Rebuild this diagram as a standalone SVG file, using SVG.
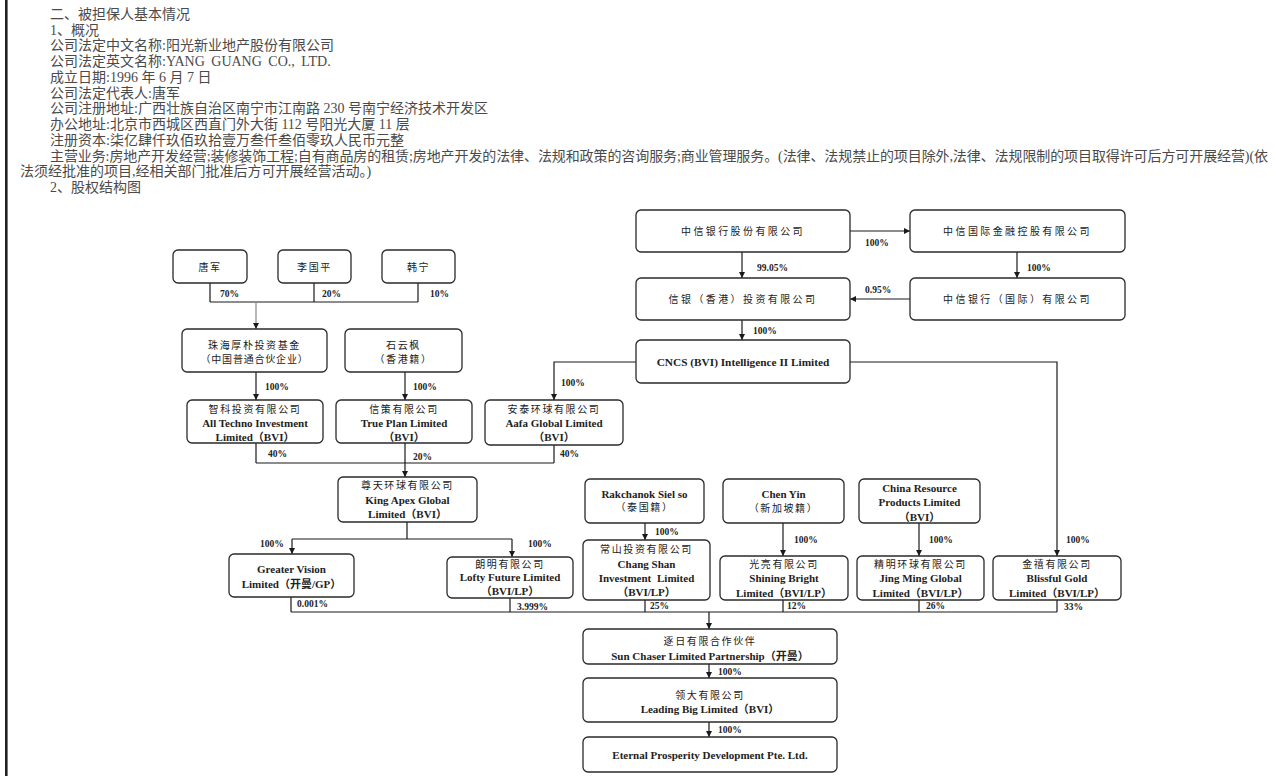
<svg xmlns="http://www.w3.org/2000/svg" width="1276" height="776" viewBox="0 0 1276 776">
<style>
.doc{font-family:"Liberation Serif","Noto Sans CJK SC",serif;font-size:14px;fill:#4a4a4a}
.box{fill:#fff;stroke:#2a2a2a;stroke-width:1.3}
.zh{font-family:"Noto Sans CJK SC",sans-serif;font-size:10px;letter-spacing:1.6px;fill:#1a1a1a;text-anchor:middle}
.zt{font-family:"Noto Sans CJK SC",sans-serif;font-size:10px;letter-spacing:2.4px;fill:#1a1a1a;text-anchor:middle}
.en{font-family:"Liberation Serif","Noto Sans CJK SC",serif;font-weight:bold;font-size:11px;fill:#222;text-anchor:middle}
.pct{font-family:"Liberation Serif",serif;font-weight:bold;font-size:9.5px;fill:#222}
.ln{fill:none;stroke:#1a1a1a;stroke-width:1.2}
.lg{fill:none;stroke:#888;stroke-width:1.2}
.ar{marker-end:url(#arr)}
</style>
<defs>
<marker id="arr" markerWidth="6" markerHeight="6" refX="6" refY="3" orient="auto" markerUnits="userSpaceOnUse">
<path d="M0,0 L6,3 L0,6 z" fill="#1a1a1a"/>
</marker>
</defs>
<rect x="0" y="0" width="1276" height="776" fill="#fff"/>
<rect x="5" y="0" width="2.6" height="776" fill="#231f20"/>
<g id="doc-text">
<text class="doc" x="50" y="18.7">二、被担保人基本情况</text>
<text class="doc" x="50" y="34.5">1、概况</text>
<text class="doc" x="50" y="50.2">公司法定中文名称:阳光新业地产股份有限公司</text>
<text class="doc" x="50" y="66" word-spacing="3">公司法定英文名称:YANG GUANG CO., LTD.</text>
<text class="doc" x="50" y="81.7">成立日期:1996 年 6 月 7 日</text>
<text class="doc" x="50" y="97.5">公司法定代表人:唐军</text>
<text class="doc" x="50" y="113.2">公司注册地址:广西壮族自治区南宁市江南路 230 号南宁经济技术开发区</text>
<text class="doc" x="50" y="129">办公地址:北京市西城区西直门外大街 112 号阳光大厦 11 层</text>
<text class="doc" x="50" y="144.7">注册资本:柒亿肆仟玖佰玖拾壹万叁仟叁佰零玖人民币元整</text>
<text class="doc" x="50" y="160.5" textLength="1218" lengthAdjust="spacing">主营业务:房地产开发经营;装修装饰工程;自有商品房的租赁;房地产开发的法律、法规和政策的咨询服务;商业管理服务。(法律、法规禁止的项目除外,法律、法规限制的项目取得许可后方可开展经营)(依</text>
<text class="doc" x="20" y="176.2">法须经批准的项目,经相关部门批准后方可开展经营活动。)</text>
<text class="doc" x="50" y="192">2、股权结构图</text>
</g>
<g id="connectors">
<path class="ln ar" d="M850,231 H910"/>
<path class="ln ar" d="M742,252 V278"/>
<path class="ln ar" d="M1017,252 V278"/>
<path class="ln ar" d="M910,299 H850"/>
<path class="ln ar" d="M742,320 V340"/>
<path class="ln ar" d="M636,362 H554 V400"/>
<path class="ln ar" d="M850,362 H1057 V556"/>
<path class="ln" d="M210,283 V302 M314,283 V302 M418,283 V302 M210,302 H418"/>
<path class="lg ar" d="M256,302 V329"/>
<path class="ln ar" d="M256,372 V400"/>
<path class="ln ar" d="M405,372 V400"/>
<path class="ln" d="M256,443 V463 M554,445 V463 M256,463 H554"/>
<path class="ln ar" d="M405,443 V477"/>
<path class="ln" d="M407,522 V539 M292,539 H512"/>
<path class="ln ar" d="M292,539 V554"/>
<path class="ln ar" d="M512,539 V557"/>
<path class="ln ar" d="M645,523 V540"/>
<path class="ln ar" d="M783,523 V556"/>
<path class="ln ar" d="M919,523 V556"/>
<path class="ln" d="M291,597 V612 M510,598 V612 M645,600 V612 M783,600 V612 M919,600 V612 M1057,600 V612 M291,612 H1057"/>
<path class="ln ar" d="M709,612 V629"/>
<path class="ln ar" d="M709,664 V678"/>
<path class="ln ar" d="M709,722 V737"/>
<text class="pct" x="865" y="246">100%</text>
<text class="pct" x="757" y="271">99.05%</text>
<text class="pct" x="1027" y="271">100%</text>
<text class="pct" x="865" y="293">0.95%</text>
<text class="pct" x="753" y="334">100%</text>
<text class="pct" x="561" y="386">100%</text>
<text class="pct" x="1066" y="543">100%</text>
<text class="pct" x="220" y="297">70%</text>
<text class="pct" x="322" y="297">20%</text>
<text class="pct" x="430" y="297">10%</text>
<text class="pct" x="265" y="390">100%</text>
<text class="pct" x="413" y="390">100%</text>
<text class="pct" x="268" y="457">40%</text>
<text class="pct" x="413" y="460">20%</text>
<text class="pct" x="560" y="457">40%</text>
<text class="pct" x="260" y="547">100%</text>
<text class="pct" x="528" y="547">100%</text>
<text class="pct" x="655" y="535">100%</text>
<text class="pct" x="794" y="543">100%</text>
<text class="pct" x="929" y="543">100%</text>
<text class="pct" x="297" y="607">0.001%</text>
<text class="pct" x="517" y="610">3.999%</text>
<text class="pct" x="650" y="609">25%</text>
<text class="pct" x="787" y="609">12%</text>
<text class="pct" x="926" y="609">26%</text>
<text class="pct" x="1064" y="610">33%</text>
<text class="pct" x="718" y="675">100%</text>
<text class="pct" x="718" y="733">100%</text>
</g>
<g id="citic-bank"><rect class="box" x="636" y="210" width="214" height="42" rx="5"/><text class="zt" x="743" y="234.5">中信银行股份有限公司</text></g>
<g id="citic-intl"><rect class="box" x="910" y="210" width="215" height="42" rx="5"/><text class="zt" x="1017.5" y="234.5">中信国际金融控股有限公司</text></g>
<g id="xinyin-hk"><rect class="box" x="636" y="278" width="214" height="42" rx="5"/><text class="zt" x="743" y="302.5">信银（香港）投资有限公司</text></g>
<g id="citic-bank-intl"><rect class="box" x="910" y="278" width="215" height="42" rx="5"/><text class="zt" x="1017.5" y="302.5">中信银行（国际）有限公司</text></g>
<g id="cncs"><rect class="box" x="636" y="340" width="214" height="43" rx="5"/><text class="en" x="743" y="366" style="font-size:11.3px">CNCS (BVI) Intelligence II Limited</text></g>
<g id="tangjun"><rect class="box" x="173" y="250" width="74" height="33" rx="5"/><text class="zh" x="210" y="270.5">唐军</text></g>
<g id="liguoping"><rect class="box" x="278" y="250" width="73" height="33" rx="5"/><text class="zh" x="314.5" y="270.5">李国平</text></g>
<g id="hanning"><rect class="box" x="382" y="250" width="73" height="33" rx="5"/><text class="zh" x="418.5" y="270.5">韩宁</text></g>
<g id="fund"><rect class="box" x="182" y="329" width="145" height="43" rx="5"/><text class="zh" x="254.5" y="349">珠海厚朴投资基金</text><text class="zh" x="254.5" y="363" style="letter-spacing:0.8px">（中国普通合伙企业）</text></g>
<g id="shiyunfeng"><rect class="box" x="345" y="329" width="117" height="43" rx="5"/><text class="zh" x="403.5" y="349">石云枫</text><text class="zh" x="403.5" y="363">（香港籍）</text></g>
<g id="alltechno"><rect class="box" x="187" y="400" width="136" height="43" rx="5"/><text class="zh" x="255" y="413">智科投资有限公司</text><text class="en" x="255" y="427">All Techno Investment</text><text class="en" x="255" y="440.5">Limited（BVI）</text></g>
<g id="trueplan"><rect class="box" x="336" y="400" width="136" height="43" rx="5"/><text class="zh" x="404" y="413">信策有限公司</text><text class="en" x="404" y="427">True Plan Limited</text><text class="en" x="404" y="440.5">（BVI）</text></g>
<g id="aafa"><rect class="box" x="485" y="400" width="138" height="45" rx="5"/><text class="zh" x="554" y="413">安泰环球有限公司</text><text class="en" x="554" y="427">Aafa Global Limited</text><text class="en" x="554" y="441">（BVI）</text></g>
<g id="kingapex"><rect class="box" x="338" y="477" width="139" height="45" rx="5"/><text class="zh" x="407.5" y="489">尊天环球有限公司</text><text class="en" x="407.5" y="503.5">King Apex Global</text><text class="en" x="407.5" y="518">Limited（BVI）</text></g>
<g id="greatervision"><rect class="box" x="229" y="554" width="125" height="43" rx="5"/><text class="en" x="291.5" y="572.5">Greater Vision</text><text class="en" x="291.5" y="587.5">Limited（开曼/GP）</text></g>
<g id="lofty"><rect class="box" x="447" y="557" width="126" height="41" rx="5"/><text class="zh" x="510" y="568">朗明有限公司</text><text class="en" x="510" y="581">Lofty Future Limited</text><text class="en" x="510" y="595">（BVI/LP）</text></g>
<g id="rakchanok"><rect class="box" x="585" y="479" width="119" height="44" rx="5"/><text class="en" x="644.5" y="498">Rakchanok Siel so</text><text class="zh" x="644.5" y="511">（泰国籍）</text></g>
<g id="changshan"><rect class="box" x="583" y="540" width="127" height="60" rx="5"/><text class="zh" x="646.5" y="553">常山投资有限公司</text><text class="en" x="646.5" y="567.5">Chang Shan</text><text class="en" x="646.5" y="582" word-spacing="3">Investment Limited</text><text class="en" x="646.5" y="596">（BVI/LP）</text></g>
<g id="chenyin"><rect class="box" x="723" y="479" width="121" height="44" rx="5"/><text class="en" x="783.5" y="498">Chen Yin</text><text class="zh" x="783.5" y="512">（新加坡籍）</text></g>
<g id="shining"><rect class="box" x="720" y="556" width="128" height="44" rx="5"/><text class="zh" x="784" y="568">光亮有限公司</text><text class="en" x="784" y="582">Shining Bright</text><text class="en" x="784" y="597">Limited（BVI/LP）</text></g>
<g id="chinaresource"><rect class="box" x="859" y="479" width="121" height="44" rx="5"/><text class="en" x="919.5" y="492">China Resource</text><text class="en" x="919.5" y="506">Products Limited</text><text class="en" x="919.5" y="520.5">（BVI）</text></g>
<g id="jingming"><rect class="box" x="857" y="556" width="127" height="44" rx="5"/><text class="zh" x="920.5" y="568">精明环球有限公司</text><text class="en" x="920.5" y="582">Jing Ming Global</text><text class="en" x="920.5" y="597">Limited（BVI/LP）</text></g>
<g id="blissful"><rect class="box" x="993" y="556" width="128" height="44" rx="5"/><text class="zh" x="1057" y="568">金禧有限公司</text><text class="en" x="1057" y="582">Blissful Gold</text><text class="en" x="1057" y="597">Limited（BVI/LP）</text></g>
<g id="sunchaser"><rect class="box" x="583" y="629" width="254" height="35" rx="5"/><text class="zh" x="710" y="645">逐日有限合作伙伴</text><text class="en" x="710" y="659.5">Sun Chaser Limited Partnership（开曼）</text></g>
<g id="leadingbig"><rect class="box" x="583" y="678" width="254" height="44" rx="5"/><text class="zh" x="710" y="698.5">领大有限公司</text><text class="en" x="710" y="713">Leading Big Limited（BVI）</text></g>
<g id="eternal"><rect class="box" x="583" y="737" width="254" height="35" rx="5"/><text class="en" x="710" y="758.5">Eternal Prosperity Development Pte. Ltd.</text></g>
</svg>
